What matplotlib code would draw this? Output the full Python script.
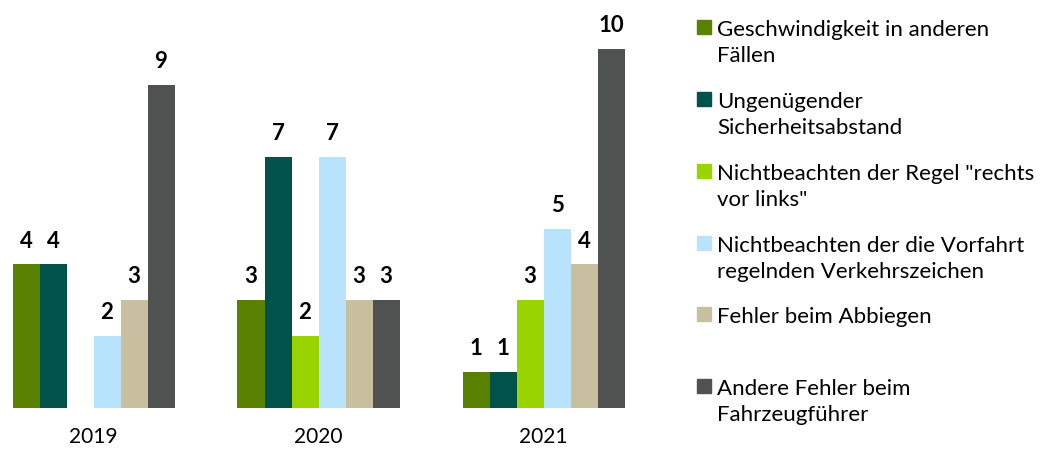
import matplotlib
matplotlib.use("Agg")
import matplotlib.pyplot as plt
from matplotlib.patches import Rectangle

plt.rcParams["font.family"] = ["Lato", "DejaVu Sans"]

years = ["2019", "2020", "2021"]
series = [
    "Geschwindigkeit in anderen\nFällen",
    "Ungenügender\nSicherheitsabstand",
    "Nichtbeachten der Regel \"rechts\nvor links\"",
    "Nichtbeachten der die Vorfahrt\nregelnden Verkehrszeichen",
    "Fehler beim Abbiegen",
    "Andere Fehler beim\nFahrzeugführer",
]
values = [
    [4, 3, 1],
    [4, 7, 1],
    [0, 2, 3],
    [2, 7, 5],
    [3, 3, 4],
    [9, 3, 10],
]
colors = ["#5a8200", "#00524a", "#99d400", "#b9e3fc", "#c8bfa0", "#505251"]

W, H = 1049, 452
fig = plt.figure(figsize=(W / 100, H / 100), dpi=100)
ax = fig.add_axes([0, (H - 409) / H, 640 / W, 359 / H])

w = 0.12
for j, (vals, c) in enumerate(zip(values, colors)):
    xs = [i + (j - 2.5) * w for i in range(len(years))]
    bars = ax.bar(xs, vals, width=w, color=c)
    for b, v in zip(bars, vals):
        if v == 0:
            continue
        ax.annotate(str(v), (b.get_x() + b.get_width() / 2, v),
                    xytext=(0, 10), textcoords="offset points",
                    ha="center", va="bottom", fontsize=16, fontweight="bold")

ax.set_xlim(-93.5 / 225, (640 - 93.5) / 225)
ax.set_ylim(0, 10)
ax.set_xticks(range(len(years)))
ax.set_xticklabels(years, fontsize=15)
ax.tick_params(axis="x", length=0, pad=13)
ax.set_yticks([])
for s in ax.spines.values():
    s.set_visible(False)

# legend drawn by hand so that squares line up with the first text line
centers = [28, 100, 172, 244, 315, 387]
for lab, c, yc in zip(series, colors, centers):
    fig.add_artist(Rectangle((697 / W, 1 - (yc + 7) / H), 14 / W, 14 / H,
                             transform=fig.transFigure, color=c))
    fig.text(717 / W, 1 - (yc - 8) / H, lab, fontsize=16, va="top",
             ha="left", linespacing=1.35)

fig.savefig("out.png", dpi=100)
